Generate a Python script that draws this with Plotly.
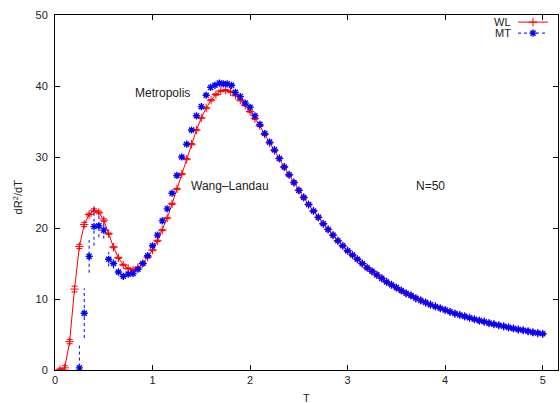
import plotly.graph_objects as go

# ---------------- data ----------------
wl_T = [0.05, 0.10, 0.15, 0.20, 0.25, 0.30, 0.35, 0.40, 0.45, 0.50,
        0.55, 0.60, 0.65, 0.70, 0.75, 0.80, 0.85, 0.90, 0.95, 1.00,
        1.05, 1.10, 1.15, 1.20, 1.25, 1.30, 1.35, 1.40, 1.45, 1.50,
        1.55, 1.60, 1.65, 1.70, 1.75, 1.80, 1.85, 1.90, 1.95, 2.00,
        2.05, 2.10, 2.15, 2.20, 2.25, 2.30, 2.35, 2.40, 2.45, 2.50,
        2.55, 2.60, 2.65, 2.70, 2.75, 2.80, 2.85, 2.90, 2.95, 3.00,
        3.05, 3.10, 3.15, 3.20, 3.25, 3.30, 3.35, 3.40, 3.45, 3.50,
        3.55, 3.60, 3.65, 3.70, 3.75, 3.80, 3.85, 3.90, 3.95, 4.00,
        4.05, 4.10, 4.15, 4.20, 4.25, 4.30, 4.35, 4.40, 4.45, 4.50,
        4.55, 4.60, 4.65, 4.70, 4.75, 4.80, 4.85, 4.90, 4.95, 5.00]
wl_val = [0.05, 0.3, 4.0, 11.4, 17.4, 20.5, 21.9, 22.5, 22.2, 21.1,
          19.2, 17.3, 15.8, 14.8, 14.3, 14.1, 14.4, 15.0, 15.9, 16.9,
          18.2, 19.7, 21.4, 23.4, 25.5, 27.6, 29.7, 31.8, 33.8, 35.5,
          36.9, 38.0, 38.8, 39.3, 39.4, 39.2, 38.7, 38.0, 37.3, 36.4,
          35.4, 34.4, 33.2, 32.0, 30.9, 29.8, 28.6, 27.5, 26.4, 25.3,
          24.3, 23.3, 22.4, 21.5, 20.6, 19.8, 19.0, 18.2, 17.5, 16.8,
          16.2, 15.6, 15.0, 14.4, 13.9, 13.4, 12.9, 12.4, 12.0, 11.6,
          11.2, 10.8, 10.5, 10.1, 9.8, 9.5, 9.2, 8.95, 8.7, 8.45,
          8.2, 7.95, 7.75, 7.55, 7.35, 7.15, 6.95, 6.8, 6.6, 6.45,
          6.3, 6.15, 6.0, 5.85, 5.7, 5.6, 5.45, 5.3, 5.2, 5.1]
wl_err = [0.2, 0.3, 0.3, 0.4, 0.3, 0.3, 0.2, 0.2, 0.2, 0.2] + [0.1] * 90

mt_T = [0.25, 0.30, 0.35, 0.40, 0.45, 0.50, 0.55, 0.60, 0.65, 0.70,
        0.75, 0.80, 0.85, 0.90, 0.95, 1.00, 1.05, 1.10, 1.15, 1.20,
        1.25, 1.30, 1.35, 1.40, 1.45, 1.50, 1.55, 1.595, 1.64, 1.685,
        1.725, 1.765, 1.81, 1.85, 1.90, 1.95, 2.00,
        2.05, 2.10, 2.15, 2.20, 2.25, 2.30, 2.35, 2.40, 2.45, 2.50,
        2.55, 2.60, 2.65, 2.70, 2.75, 2.80, 2.85, 2.90, 2.95, 3.00,
        3.05, 3.10, 3.15, 3.20, 3.25, 3.30, 3.35, 3.40, 3.45, 3.50,
        3.55, 3.60, 3.65, 3.70, 3.75, 3.80, 3.85, 3.90, 3.95, 4.00,
        4.05, 4.10, 4.15, 4.20, 4.25, 4.30, 4.35, 4.40, 4.45, 4.50,
        4.55, 4.60, 4.65, 4.70, 4.75, 4.80, 4.85, 4.90, 4.95, 5.00]
mt_val = [0.3, 8.0, 16.0, 20.2, 20.3, 19.7, 15.6, 15.0, 13.8, 13.2,
          13.5, 13.6, 14.2, 15.0, 16.1, 17.5, 19.0, 21.0, 22.7, 24.9,
          27.4, 30.0, 31.8, 33.8, 35.8, 37.1, 38.7, 39.8, 40.1, 40.4,
          40.3, 40.3, 40.1, 39.1, 38.5, 37.6, 37.0,
          35.8, 34.6, 33.3, 32.1, 31.0, 29.8, 28.6, 27.5, 26.4, 25.3,
          24.3, 23.3, 22.4, 21.5, 20.6, 19.8, 19.0, 18.2, 17.5, 16.8,
          16.2, 15.6, 15.0, 14.4, 13.9, 13.4, 12.9, 12.4, 12.0, 11.6,
          11.2, 10.8, 10.5, 10.1, 9.8, 9.5, 9.2, 8.95, 8.7, 8.45,
          8.2, 7.95, 7.75, 7.55, 7.35, 7.15, 6.95, 6.8, 6.6, 6.45,
          6.3, 6.15, 6.0, 5.85, 5.7, 5.6, 5.45, 5.3, 5.2, 5.1]
mt_err = [3.2, 3.5, 2.3, 2.7, 1.6, 1.2, 1.0, 0.7, 0.5, 0.4] + [0.25] * 6 + [0.2] * 81

x_ticks = [0, 1, 2, 3, 4, 5]
y_ticks = [0, 10, 20, 30, 40, 50]

RED = "#ff0000"
BLUE = "#0000ff"
FONT = "Liberation Sans, Arial, Helvetica, sans-serif"

fig = go.Figure()

# WL: line with points and y error bars
fig.add_trace(go.Scatter(
    x=wl_T, y=wl_val, mode="lines+markers", name="",
    line=dict(color=RED, width=1),
    marker=dict(symbol="cross-thin-open", size=6, color=RED, line=dict(color=RED, width=1)),
    error_y=dict(type="data", array=wl_err, color=RED, thickness=1, width=3),
    legend="legend", showlegend=True,
))

# MT: dotted error bars built from the data arrays
ebx, eby = [], []
for t, v, e in zip(mt_T, mt_val, mt_err):
    ebx += [t, t, None]
    eby += [v - e, v + e, None]
fig.add_trace(go.Scatter(
    x=ebx, y=eby, mode="lines", showlegend=False, hoverinfo="skip",
    line=dict(color=BLUE, width=1, dash="dot"),
))
fig.add_trace(go.Scatter(
    x=mt_T, y=mt_val, mode="markers", showlegend=False,
    marker=dict(symbol="asterisk-open", size=6, color=BLUE, line=dict(color=BLUE, width=1.4)),
))
# MT legend key (dotted line with asterisk)
fig.add_trace(go.Scatter(
    x=[None], y=[None], mode="lines+markers", name="",
    line=dict(color=BLUE, width=1, dash="dot"),
    marker=dict(symbol="asterisk-open", size=6, color=BLUE, line=dict(color=BLUE, width=1.4)),
    legend="legend2", showlegend=True,
))

axis_common = dict(
    showline=True, linecolor="#000", linewidth=1, mirror="ticks",
    ticks="inside", ticklen=5, tickcolor="#000", tickwidth=1,
    showgrid=False, zeroline=False, automargin=False,
    tickfont=dict(family=FONT, size=11, color="#222"),
)
fig.update_xaxes(range=[0, 5.157], tickvals=x_ticks, ticktext=[str(v) for v in x_ticks], **axis_common)
fig.update_yaxes(range=[0, 50], tickvals=y_ticks, ticktext=[str(v) for v in y_ticks],
                 ticklabelstandoff=4, **axis_common)

annots = [
    dict(x=1.10, y=38.97, xref="x", yref="y", text="Metropolis", showarrow=False,
         font=dict(family=FONT, size=12, color="#222")),
    dict(x=1.793, y=25.9, xref="x", yref="y", text="Wang\u2013Landau", showarrow=False,
         font=dict(family=FONT, size=12, color="#222")),
    dict(x=3.847, y=25.9, xref="x", yref="y", text="N=50", showarrow=False,
         font=dict(family=FONT, size=12, color="#222")),
    dict(x=0.5, y=-0.079, xref="paper", yref="paper", text="T", showarrow=False,
         yanchor="middle", font=dict(family=FONT, size=11, color="#222")),
    dict(x=-0.0736, y=0.489, xref="paper", yref="paper", text="dR<sup>2</sup>/dT",
         showarrow=False, textangle=-90, xanchor="center", yanchor="middle",
         font=dict(family=FONT, size=11, color="#222")),
    dict(x=0.9105, y=0.980, xref="paper", yref="paper", text="WL", showarrow=False,
         xanchor="right", yanchor="middle", font=dict(family=FONT, size=11, color="#222")),
    dict(x=0.9105, y=0.949, xref="paper", yref="paper", text="MT", showarrow=False,
         xanchor="right", yanchor="middle", font=dict(family=FONT, size=11, color="#222")),
]

fig.update_layout(
    width=560, height=403,
    margin=dict(l=55, r=2, t=15, b=33, autoexpand=False),
    paper_bgcolor="white", plot_bgcolor="white",
    font=dict(family=FONT, size=11, color="#222"),
    annotations=annots,
    legend=dict(x=1.0, y=0.980, xanchor="right", yanchor="middle",
                bgcolor="rgba(0,0,0,0)", borderwidth=0, font=dict(size=11)),
    legend2=dict(x=1.0, y=0.949, xanchor="right", yanchor="middle",
                 bgcolor="rgba(0,0,0,0)", borderwidth=0, font=dict(size=11)),
)

fig.write_html(
    "out.html",
    config={"displayModeBar": False},
    post_script="document.body.style.margin='0';document.body.style.padding='0';",
)
